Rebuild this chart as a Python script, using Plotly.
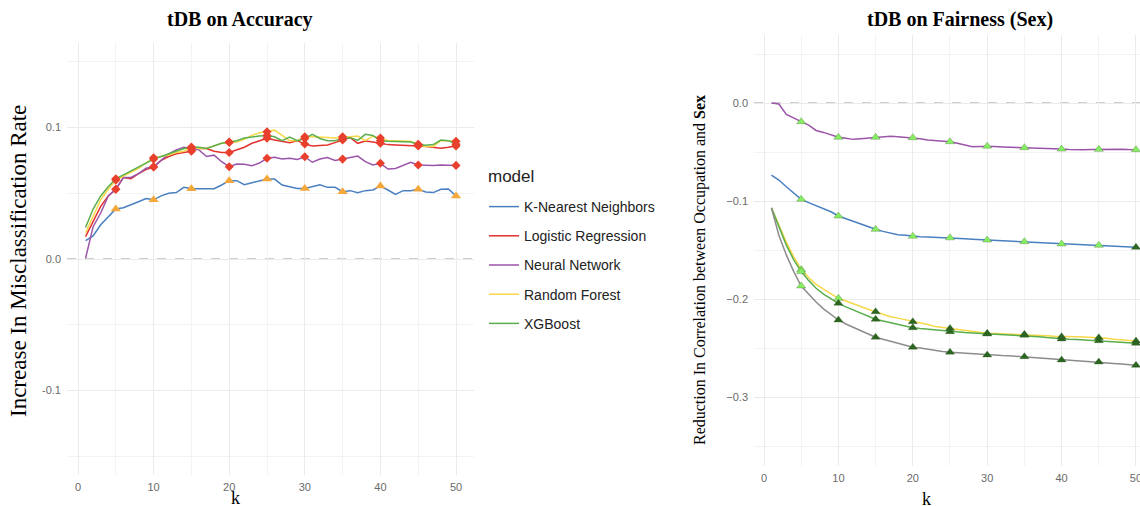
import plotly.graph_objects as go

# ---------------- data ----------------
k = list(range(1, 51))
mark_k = [5, 10, 15, 20, 25, 30, 35, 40, 45, 50]

models = ["K-Nearest Neighbors", "Logistic Regression", "Neural Network", "Random Forest", "XGBoost"]

acc_knn = [0.014, 0.0175, 0.026, 0.032, 0.038, 0.039, 0.041, 0.0436, 0.046, 0.045,
           0.048, 0.050, 0.0505, 0.0545, 0.0535, 0.0535, 0.053, 0.0535, 0.0563, 0.0596,
           0.0596, 0.0565, 0.058, 0.0596, 0.0608, 0.0608, 0.0563, 0.055, 0.0537, 0.0537,
           0.055, 0.0565, 0.0545, 0.0545, 0.0512, 0.052, 0.0505, 0.052, 0.0525, 0.0555,
           0.0525, 0.0492, 0.052, 0.052, 0.053, 0.051, 0.0505, 0.053, 0.0533, 0.048]
acc_lr = [0.017, 0.028, 0.040, 0.048, 0.053, 0.062, 0.061, 0.065, 0.068, 0.070,
          0.075, 0.078, 0.080, 0.081, 0.082, 0.084, 0.084, 0.082, 0.081, 0.081,
          0.083, 0.085, 0.088, 0.090, 0.0918, 0.0905, 0.0895, 0.0885, 0.090, 0.0875,
          0.086, 0.0865, 0.0867, 0.0885, 0.0905, 0.0923, 0.088, 0.0897, 0.089, 0.088,
          0.087, 0.0867, 0.0865, 0.0865, 0.086, 0.0855, 0.085, 0.0842, 0.085, 0.086]
acc_nn = [0.0005, 0.0246, 0.035, 0.048, 0.053, 0.062, 0.062, 0.065, 0.069, 0.0702,
          0.075, 0.080, 0.083, 0.085, 0.084, 0.083, 0.078, 0.079, 0.074, 0.0702,
          0.0723, 0.072, 0.071, 0.073, 0.0766, 0.0773, 0.0761, 0.0766, 0.0757, 0.0778,
          0.0736, 0.076, 0.0772, 0.075, 0.076, 0.0772, 0.0783, 0.074, 0.0715, 0.0728,
          0.0684, 0.0689, 0.0715, 0.0735, 0.0715, 0.0712, 0.0712, 0.0715, 0.0712, 0.0712]
acc_rf = [0.020, 0.033, 0.045, 0.053, 0.060, 0.063, 0.066, 0.069, 0.073, 0.077,
          0.078, 0.079, 0.081, 0.082, 0.085, 0.084, 0.084, 0.086, 0.088, 0.0887,
          0.089, 0.091, 0.094, 0.096, 0.0968, 0.098, 0.094, 0.090, 0.090, 0.093,
          0.093, 0.093, 0.0925, 0.092, 0.093, 0.093, 0.0935, 0.090, 0.0934, 0.092,
          0.090, 0.090, 0.090, 0.0895, 0.0868, 0.0856, 0.0856, 0.090, 0.090, 0.0896]
acc_xgb = [0.024, 0.038, 0.048, 0.055, 0.061, 0.064, 0.067, 0.070, 0.073, 0.076,
           0.078, 0.080, 0.082, 0.084, 0.085, 0.085, 0.084, 0.086, 0.088, 0.089,
           0.090, 0.092, 0.093, 0.0935, 0.094, 0.093, 0.090, 0.0927, 0.090, 0.0917,
           0.0948, 0.0917, 0.090, 0.090, 0.0917, 0.0923, 0.0903, 0.0948, 0.094, 0.090,
           0.0895, 0.0895, 0.0895, 0.089, 0.0873, 0.0866, 0.087, 0.0905, 0.090, 0.0873]

fair_nn = [0.0, -0.001, -0.0116, -0.0156, -0.019, -0.0225, -0.028, -0.030, -0.0326, -0.035,
           -0.036, -0.0371, -0.0365, -0.036, -0.035, -0.0345, -0.034, -0.0343, -0.035, -0.0354,
           -0.0365, -0.0378, -0.0385, -0.0388, -0.0395, -0.041, -0.0429, -0.0446, -0.0443, -0.044,
           -0.0444, -0.0448, -0.045, -0.0453, -0.0456, -0.0458, -0.046, -0.0463, -0.0467, -0.047,
           -0.0475, -0.048, -0.0478, -0.0475, -0.0473, -0.0472, -0.047, -0.0472, -0.0475, -0.0476]
fair_knn = [-0.0735, -0.0786, -0.0854, -0.092, -0.0983, -0.1017, -0.105, -0.1078, -0.111, -0.1153,
            -0.118, -0.121, -0.1235, -0.126, -0.1289, -0.131, -0.133, -0.1344, -0.135, -0.136,
            -0.1365, -0.1368, -0.137, -0.1374, -0.1376, -0.138, -0.1385, -0.139, -0.1394, -0.1398,
            -0.1401, -0.1405, -0.1408, -0.1412, -0.1415, -0.142, -0.1425, -0.143, -0.1435, -0.1439,
            -0.1441, -0.1444, -0.1447, -0.145, -0.1452, -0.1456, -0.146, -0.1464, -0.1468, -0.1473]
fair_rf = [-0.107, -0.125, -0.142, -0.157, -0.170, -0.178, -0.185, -0.190, -0.195, -0.1993,
           -0.202, -0.205, -0.208, -0.2105, -0.213, -0.2155, -0.218, -0.2195, -0.221, -0.2232,
           -0.2245, -0.226, -0.228, -0.229, -0.230, -0.231, -0.232, -0.233, -0.234, -0.235,
           -0.2352, -0.2355, -0.2357, -0.2358, -0.236, -0.2365, -0.237, -0.2375, -0.238, -0.2384,
           -0.2385, -0.2386, -0.2388, -0.239, -0.2395, -0.240, -0.241, -0.2415, -0.242, -0.2429]
fair_xgb = [-0.107, -0.127, -0.145, -0.160, -0.172, -0.181, -0.189, -0.195, -0.200, -0.2044,
            -0.208, -0.211, -0.214, -0.2175, -0.2207, -0.2225, -0.2243, -0.226, -0.2278, -0.2293,
            -0.2302, -0.231, -0.2318, -0.2326, -0.2333, -0.2338, -0.2343, -0.2348, -0.2352, -0.2357,
            -0.236, -0.2362, -0.2365, -0.2368, -0.2371, -0.2378, -0.2385, -0.2393, -0.2401, -0.2408,
            -0.2411, -0.2414, -0.2418, -0.2421, -0.2425, -0.243, -0.2436, -0.2441, -0.2447, -0.2452]
fair_gray = [-0.107, -0.135, -0.155, -0.172, -0.1867, -0.195, -0.203, -0.210, -0.216, -0.2214,
             -0.2255, -0.229, -0.2325, -0.236, -0.239, -0.241, -0.243, -0.2455, -0.2475, -0.2493,
             -0.250, -0.2513, -0.2524, -0.2535, -0.2542, -0.2548, -0.2555, -0.256, -0.2566, -0.2571,
             -0.2574, -0.2577, -0.258, -0.2584, -0.2588, -0.2595, -0.2602, -0.2608, -0.2615, -0.2622,
             -0.2626, -0.263, -0.2634, -0.2638, -0.2643, -0.265, -0.2657, -0.2664, -0.267, -0.2677]

x_ticks = [0, 10, 20, 30, 40, 50]
left_y_ticks = [-0.1, 0.0, 0.1]
left_y_text = ["-0.1", "0.0", "0.1"]
right_y_ticks = [-0.3, -0.2, -0.1, 0.0]
right_y_text = ["\u22120.3", "\u22120.2", "\u22120.1", "0.0"]

# ---------------- styles ----------------
C_KNN = "#4A80C0"
C_LR = "#E3312D"
C_NN = "#9B55A8"
C_RF = "#F7D848"
C_XGB = "#5BAE4E"
C_GRAY = "#8C8C8C"
C_DIAMOND = "#E8402C"
C_TRI = "#F4A83C"
C_LIGHT = "#86EE62"
C_DARK = "#2A6620"
LW = 1.5

def pick(arr):
    return [arr[k.index(m)] for m in mark_k]

fig = go.Figure()

left_series = [acc_knn, acc_lr, acc_nn, acc_rf, acc_xgb]
left_colors = [C_KNN, C_LR, C_NN, C_RF, C_XGB]
for name, ys, col in zip(models, left_series, left_colors):
    fig.add_trace(go.Scatter(x=k, y=ys, mode="lines", name=name, legendgroup=name,
                             line=dict(color=col, width=LW), xaxis="x", yaxis="y"))
for ys in [acc_lr, acc_nn, acc_rf, acc_xgb]:
    fig.add_trace(go.Scatter(x=mark_k, y=pick(ys), mode="markers", showlegend=False,
                             marker=dict(symbol="diamond", size=7, color=C_DIAMOND),
                             xaxis="x", yaxis="y"))
fig.add_trace(go.Scatter(x=mark_k, y=pick(acc_knn), mode="markers", showlegend=False,
                         marker=dict(symbol="triangle-up", size=9, color=C_TRI),
                         xaxis="x", yaxis="y"))

right_series = [fair_nn, fair_knn, fair_rf, fair_xgb, fair_gray]
right_colors = [C_NN, C_KNN, C_RF, C_XGB, C_GRAY]
for ys, col in zip(right_series, right_colors):
    fig.add_trace(go.Scatter(x=k, y=ys, mode="lines", showlegend=False,
                             line=dict(color=col, width=LW), xaxis="x2", yaxis="y2"))

L, D = C_LIGHT, C_DARK
right_marker_colors = [
    [L] * 10,
    [L] * 9 + [D],
    [L, L] + [D] * 8,
    [L, D] + [D] * 8,
    [L, D] + [D] * 8,
]
for ys, cols in zip(right_series, right_marker_colors):
    fig.add_trace(go.Scatter(x=mark_k, y=pick(ys), mode="markers", showlegend=False,
                             marker=dict(symbol="triangle-up", size=8, color=cols,
                                         line=dict(width=0.6, color="rgba(60,90,40,0.5)")),
                             xaxis="x2", yaxis="y2"))

W, H = 1140, 506
GRID = "#EBEBEB"
MINOR = "#F3F3F3"
SANS = "Liberation Sans, Arial, sans-serif"
TICKFONT = dict(family=SANS, size=11, color="#6A6A6A")

def xaxis(domain, rng, anchor):
    return dict(domain=domain, range=rng, anchor=anchor, tickvals=x_ticks,
                showgrid=True, gridcolor=GRID, gridwidth=1.1,
                minor=dict(dtick=5, tick0=0, showgrid=True, gridcolor=MINOR, gridwidth=0.8),
                zeroline=False, showline=False, ticks="", tickfont=TICKFONT,
                ticklabelstandoff=4, ticklabeloverflow="allow",
                automargin=False, fixedrange=True)

def yaxis(domain, rng, anchor, tv, tt):
    return dict(domain=domain, range=rng, anchor=anchor, tickvals=tv, ticktext=tt,
                showgrid=True, gridcolor=GRID, gridwidth=1.1,
                minor=dict(dtick=0.05, tick0=0, showgrid=True, gridcolor=MINOR, gridwidth=0.8),
                zeroline=False, showline=False, ticks="", tickfont=TICKFONT,
                ticklabelstandoff=5, automargin=False, fixedrange=True)

fig.update_layout(
    width=W, height=H,
    margin=dict(l=0, r=0, t=0, b=0),
    paper_bgcolor="white", plot_bgcolor="white",
    xaxis=xaxis([67 / W, 474 / W], [-1.455, 52.38], "y"),
    yaxis=yaxis([(H - 475) / H, (H - 43) / H], [-0.1643, 0.1643], "x", left_y_ticks, left_y_text),
    xaxis2=xaxis([754 / W, 1.0], [-1.344, 50.54], "y2"),
    yaxis2=yaxis([(H - 466) / H, (H - 35) / H], [-0.3704, 0.0694], "x2", right_y_ticks, right_y_text),
    legend=dict(x=484 / W, y=1 - 191 / H, xanchor="left", yanchor="top",
                font=dict(family=SANS, size=14, color="#222"),
                tracegroupgap=8, bgcolor="rgba(0,0,0,0)"),
    showlegend=True,
)

# dashed zero reference lines
for xr, yr in [("x", "y"), ("x2", "y2")]:
    fig.add_shape(type="line", xref=xr + " domain", yref=yr, x0=0, x1=1, y0=0, y1=0,
                  line=dict(color="#BDBDBD", width=1.3, dash="dash"), layer="below")

SERIF = "Liberation Serif, Times New Roman, serif"

def px_ann(text, x, y, size, family=SERIF, xanchor="center", yanchor="middle", angle=0, color="black"):
    fig.add_annotation(text=text, x=x / W, y=1 - y / H, xref="paper", yref="paper",
                       showarrow=False, xanchor=xanchor, yanchor=yanchor, textangle=angle,
                       font=dict(family=family, size=size, color=color))

px_ann("<b>tDB on Accuracy</b>", 240, 20, 20)
px_ann("<b>tDB on Fairness (Sex)</b>", 960, 20, 20)
px_ann("k", 235, 486, 18, yanchor="top")
px_ann("k", 926, 487, 18, yanchor="top")
px_ann("model", 486, 176, 17, family=SANS, xanchor="left", color="#222")
px_ann("Increase In Misclassification Rate", 18, 261, 23, angle=-90)
px_ann("Reduction In Correlation between Occupation and <b>Sex</b>", 700, 270, 16, angle=-90)

fig.write_html("out.html", config={"displayModeBar": False},
               post_script="document.body.style.margin='0';")
